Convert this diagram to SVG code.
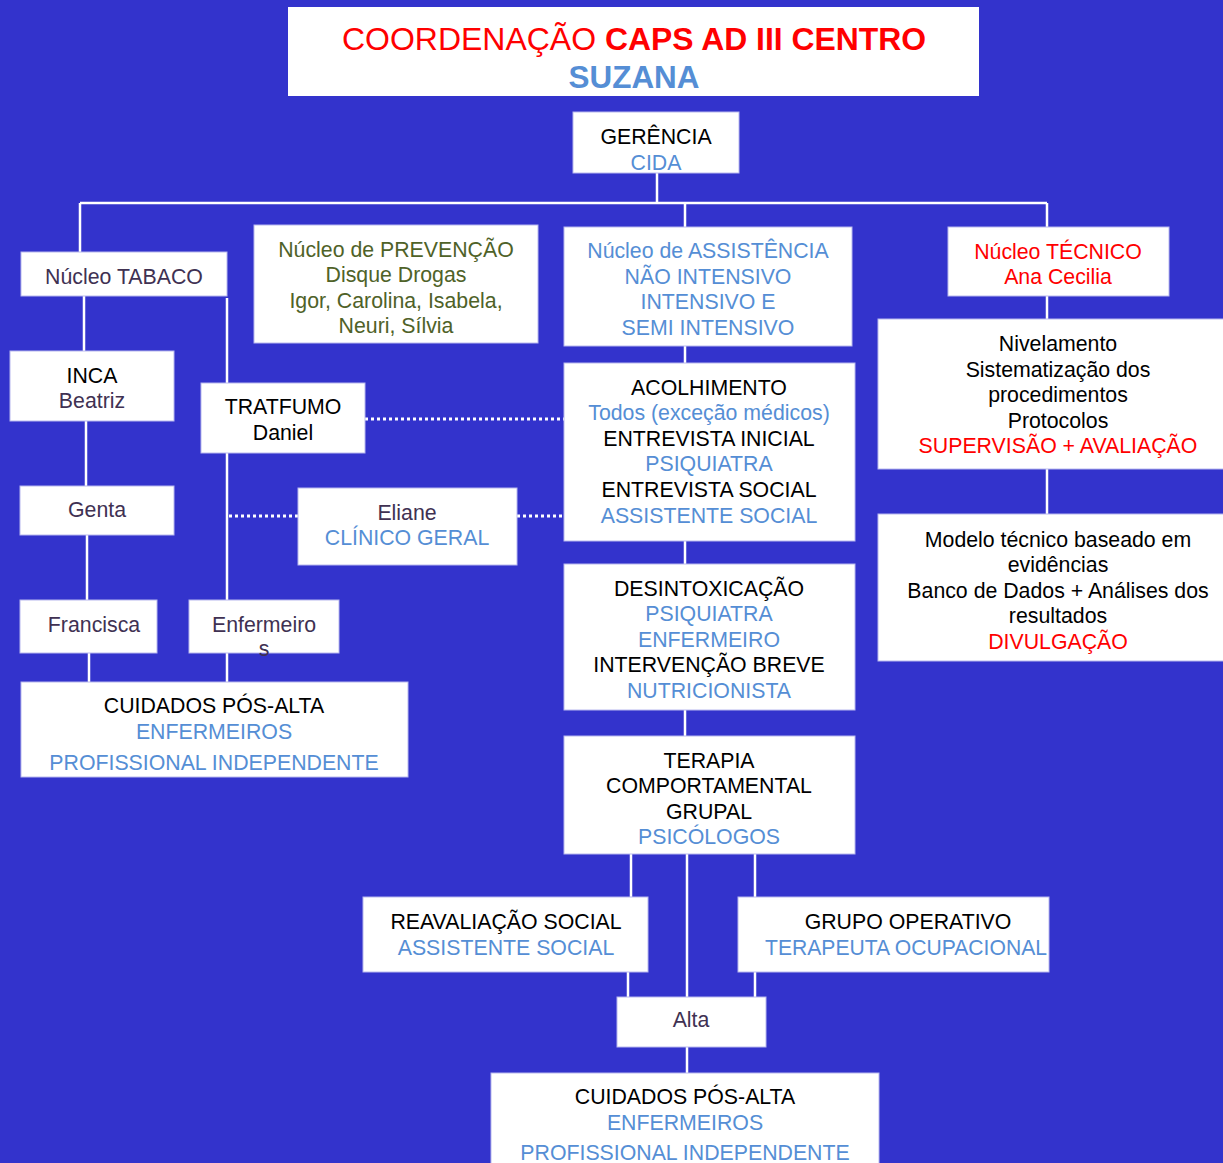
<svg xmlns="http://www.w3.org/2000/svg" width="1223" height="1163" viewBox="0 0 1223 1163">
<style>
.bx{fill:#ffffff;stroke:#b8b8ee;stroke-width:1}
text{font-family:"Liberation Sans",Arial,sans-serif;font-size:21.3px;text-anchor:middle}
.k{fill:#000000}.b{fill:#558ED5}.r{fill:#FF0000}.p{fill:#403152}.g{fill:#4F6228}
.ln{stroke:#ffffff;stroke-width:2.5;fill:none}
.dt{stroke:#ffffff;stroke-width:3;stroke-dasharray:3 3;fill:none}
</style>
<rect x="0" y="0" width="1223" height="1163" fill="#3333CC"/>
<g id="connectors">
<path class="ln" d="M657 173V203M80 203H1047M80 203V252M685 203V227M1047 203V228"/>
<path class="ln" d="M84 296V351M86 421V486M87 535V600M89 653V682"/>
<path class="ln" d="M227 298V383M227 453V600M227 653V682"/>
<path class="ln" d="M1047 296V319M1047 469V514"/>
<path class="ln" d="M685 346V363M685 541V564M685 710V736"/>
<path class="ln" d="M631 854V897M687 854V997M755 854V897M628 972V997M755 972V997M687 1047V1073"/>
<path class="dt" d="M365 419H564M229 516H298M517 516H564"/>
</g>
<g id="title"><rect x="288" y="7" width="691" height="89" fill="#ffffff"/>
<text x="469" y="50" class="r" style="font-size:32px" textLength="254" lengthAdjust="spacingAndGlyphs">COORDENAÇÃO</text>
<text x="765.5" y="50" class="r" style="font-size:32px;font-weight:bold" textLength="321" lengthAdjust="spacingAndGlyphs">CAPS AD III CENTRO</text>
<text x="634" y="88" class="b" style="font-size:32px;font-weight:bold" textLength="131" lengthAdjust="spacingAndGlyphs">SUZANA</text></g>
<g id="gerencia"><rect class="bx" x="573" y="112" width="166" height="61"/><text x="656" y="144" class="k">GERÊNCIA</text><text x="656" y="170" class="b">CIDA</text></g>
<g id="tabaco"><rect class="bx" x="21" y="252" width="206" height="44"/><text x="124" y="284" class="p">Núcleo TABACO</text></g>
<g id="prevencao"><rect class="bx" x="254" y="225" width="284" height="118"/><text x="396" y="257" class="g">Núcleo de PREVENÇÃO</text><text x="396" y="282" class="g">Disque Drogas</text><text x="396" y="308" class="g">Igor, Carolina, Isabela,</text><text x="396" y="333" class="g">Neuri, Sílvia</text></g>
<g id="assistencia"><rect class="bx" x="564" y="227" width="288" height="119"/><text x="708" y="258" class="b">Núcleo de ASSISTÊNCIA</text><text x="708" y="284" class="b">NÃO INTENSIVO</text><text x="708" y="309" class="b">INTENSIVO E</text><text x="708" y="335" class="b">SEMI INTENSIVO</text></g>
<g id="tecnico"><rect class="bx" x="948" y="227" width="221" height="69"/><text x="1058" y="259" class="r">Núcleo TÉCNICO</text><text x="1058" y="284" class="r">Ana Cecilia</text></g>
<g id="nivelamento"><rect class="bx" x="878" y="319" width="346" height="150"/><text x="1058" y="351" class="k">Nivelamento</text><text x="1058" y="377" class="k">Sistematização dos</text><text x="1058" y="402" class="k">procedimentos</text><text x="1058" y="428" class="k">Protocolos</text><text x="1058" y="453" class="r">SUPERVISÃO + AVALIAÇÃO</text></g>
<g id="modelo"><rect class="bx" x="878" y="514" width="346" height="147"/><text x="1058" y="547" class="k">Modelo técnico baseado em</text><text x="1058" y="572" class="k">evidências</text><text x="1058" y="598" class="k">Banco de Dados + Análises dos</text><text x="1058" y="623" class="k">resultados</text><text x="1058" y="649" class="r">DIVULGAÇÃO</text></g>
<g id="inca"><rect class="bx" x="10" y="351" width="164" height="70"/><text x="92" y="383" class="k">INCA</text><text x="92" y="408" class="p">Beatriz</text></g>
<g id="genta"><rect class="bx" x="20" y="486" width="154" height="49"/><text x="97" y="517" class="p">Genta</text></g>
<g id="francisca"><rect class="bx" x="20" y="600" width="137" height="53"/><text x="94" y="632" class="p">Francisca</text></g>
<g id="tratfumo"><rect class="bx" x="201" y="383" width="164" height="70"/><text x="283" y="414" class="k">TRATFUMO</text><text x="283" y="440" class="k">Daniel</text></g>
<g id="eliane"><rect class="bx" x="298" y="488" width="219" height="77"/><text x="407" y="520" class="p">Eliane</text><text x="407" y="545" class="b">CLÍNICO GERAL</text></g>
<g id="enfermeiros"><rect class="bx" x="189" y="600" width="150" height="53"/><text x="264" y="632" class="p">Enfermeiro</text><text x="264" y="656" class="p">s</text></g>
<g id="cuidados1"><rect class="bx" x="21" y="682" width="387" height="95"/><text x="214" y="713" class="k">CUIDADOS PÓS-ALTA</text><text x="214" y="739" class="b">ENFERMEIROS</text><text x="214" y="770" class="b">PROFISSIONAL INDEPENDENTE</text></g>
<g id="acolhimento"><rect class="bx" x="564" y="363" width="291" height="178"/><text x="709" y="395" class="k">ACOLHIMENTO</text><text x="709" y="420" class="b">Todos (exceção médicos)</text><text x="709" y="446" class="k">ENTREVISTA INICIAL</text><text x="709" y="471" class="b">PSIQUIATRA</text><text x="709" y="497" class="k">ENTREVISTA SOCIAL</text><text x="709" y="523" class="b">ASSISTENTE SOCIAL</text></g>
<g id="desintox"><rect class="bx" x="564" y="564" width="291" height="146"/><text x="709" y="596" class="k">DESINTOXICAÇÃO</text><text x="709" y="621" class="b">PSIQUIATRA</text><text x="709" y="647" class="b">ENFERMEIRO</text><text x="709" y="672" class="k">INTERVENÇÃO BREVE</text><text x="709" y="698" class="b">NUTRICIONISTA</text></g>
<g id="terapia"><rect class="bx" x="564" y="736" width="291" height="118"/><text x="709" y="768" class="k">TERAPIA</text><text x="709" y="793" class="k">COMPORTAMENTAL</text><text x="709" y="819" class="k">GRUPAL</text><text x="709" y="844" class="b">PSICÓLOGOS</text></g>
<g id="reavaliacao"><rect class="bx" x="363" y="897" width="285" height="75"/><text x="506" y="929" class="k">REAVALIAÇÃO SOCIAL</text><text x="506" y="955" class="b">ASSISTENTE SOCIAL</text></g>
<g id="grupo"><rect class="bx" x="738" y="897" width="311" height="75"/><text x="908" y="929" class="k">GRUPO OPERATIVO</text><text x="906" y="955" class="b" textLength="282" lengthAdjust="spacingAndGlyphs">TERAPEUTA OCUPACIONAL</text></g>
<g id="alta"><rect class="bx" x="617" y="997" width="149" height="50"/><text x="691" y="1027" class="p">Alta</text></g>
<g id="cuidados2"><rect class="bx" x="491" y="1073" width="388" height="100"/><text x="685" y="1104" class="k">CUIDADOS PÓS-ALTA</text><text x="685" y="1130" class="b">ENFERMEIROS</text><text x="685" y="1160" class="b">PROFISSIONAL INDEPENDENTE</text></g>
</svg>
